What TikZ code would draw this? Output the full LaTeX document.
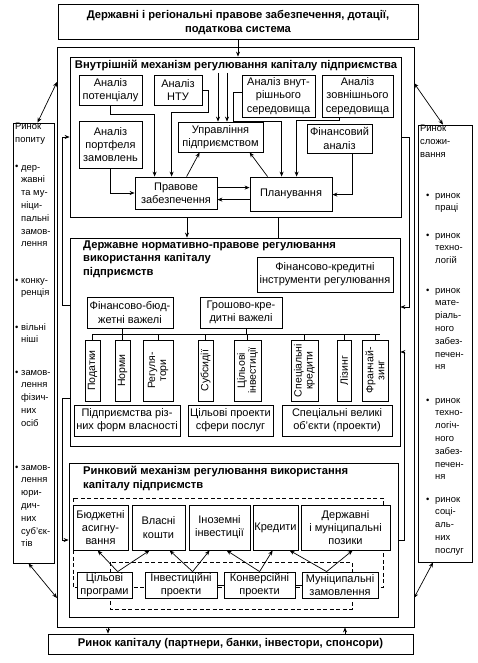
\documentclass[tikz,border=0pt]{standalone}
\usepackage{fontspec}
\setmainfont{Liberation Sans}
\usetikzlibrary{arrows.meta,calc}
\newcommand\mybox[6][]{\node[bx,#1,minimum width={(#5-#3)*1pt},minimum height={(#6-#4)*1pt}] (#2) at ({(#3+#5)/2},{(#4+#6)/2})}
\newcommand\myvbox[5]{\node[bx,rbx,rotate=90,minimum width={(#5-#3)*1pt},minimum height={(#4-#2)*1pt}] (#1) at ({(#2+#4)/2},{(#3+#5)/2})}
\begin{document}
\begin{tikzpicture}[x=1pt,y=-1pt,
  bx/.style={draw,line width=0.8pt,fill=white,inner sep=1pt,align=center,font=\fontsize{11}{13.2}\selectfont},
  rbx/.style={font=\fontsize{10.5}{11}\selectfont},
  tb/.style={font=\fontsize{11.2}{13.5}\selectfont\bfseries},
  ttl/.style={inner sep=0pt,font=\fontsize{11.2}{13.5}\selectfont\bfseries},
  side/.style={anchor=base west,inner sep=0pt,align=left,font=\fontsize{9.4}{12.8}\selectfont},
  arr/.style={line width=0.7pt,-{Stealth[length=5pt,width=4pt]}},
  darr/.style={line width=0.7pt,{Stealth[length=5pt,width=4pt]}-{Stealth[length=5pt,width=4pt]}},
  ln/.style={line width=0.7pt},
  dsh/.style={line width=0.8pt,dash pattern=on 4pt off 2.5pt}]
\fill[white] (0,0) rectangle (477,663);
\useasboundingbox (0,0) rectangle (477,663);
% frames
\mybox[fill=none]{outer}{57}{47}{414}{627}{};
\mybox{mech}{70}{57}{401}{217}{};
\mybox{state}{70}{238}{400}{446}{};
\mybox{mkt}{69}{463}{398}{617}{};
\mybox[tb,line width=1pt]{top}{58}{5}{418}{40}{Державні і регіональні правове забезпечення, дотації,\\податкова система};
\mybox[tb]{cap}{48}{634}{413}{654}{Ринок капіталу (партнери, банки, інвестори, спонсори)};
% side panels (anchors at the baseline of the last line)
\mybox{dem}{13}{123}{54}{563}{};
\mybox{sup}{418}{125}{472}{562}{};
\node[side] (demH) at (15,142.8) {Ринок\\попиту};
\node[side] (db1) at (15,170) {\textbullet}; \node[side] (dt1) at (21,246.8) {дер-\\жавні\\та му-\\ніци-\\пальні\\замов-\\лення};
\node[side] (db2) at (15,283) {\textbullet}; \node[side] (dt2) at (21,295.8) {конку-\\ренція};
\node[side] (db3) at (15,330) {\textbullet}; \node[side] (dt3) at (21,342.8) {вільні\\ніші};
\node[side] (db4) at (15,375) {\textbullet}; \node[side] (dt4) at (21,426.2) {замов-\\лення\\фізич-\\них\\осіб};
\node[side] (db5) at (15,470) {\textbullet}; \node[side] (dt5) at (21,546.8) {замов-\\лення\\юри-\\дич-\\них\\суб’єк-\\тів};
\node[side] (supH) at (420,157.6) {Ринок\\сложи-\\вання};
\node[side] (sb1) at (426,198) {\textbullet}; \node[side] (st1) at (435,210.8) {ринок\\праці};
\node[side] (sb2) at (426,238) {\textbullet}; \node[side] (st2) at (435,263.6) {ринок\\техно-\\логій};
\node[side] (sb3) at (426,293) {\textbullet}; \node[side] (st3) at (435,369.8) {ринок\\мате-\\ріаль-\\ного\\забез-\\печен-\\ня};
\node[side] (sb4) at (426,403) {\textbullet}; \node[side] (st4) at (435,479.8) {ринок\\техно-\\логіч-\\ного\\забез-\\печен-\\ня};
\node[side] (sb5) at (426,502) {\textbullet}; \node[side] (st5) at (435,553.2) {ринок\\соці-\\аль-\\них\\послуг};
% inner mechanism
\node[ttl,anchor=base] (mechT) at (236,69) {Внутрішній механізм регулювання капіталу підприємства};
\mybox{pot}{79}{75}{142}{105}{Аналіз\\потенціалу};
\mybox{ntu}{154}{75}{202}{105}{Аналіз\\НТУ};
\mybox{vnu}{242}{75}{315}{117}{Аналіз внут-\\рішнього\\середовища};
\mybox{zov}{322}{75}{393}{117}{Аналіз\\зовнішнього\\середовища};
\mybox{port}{79}{121}{142}{168}{Аналіз\\портфеля\\замовлень};
\mybox{upr}{178}{122}{263}{152}{Управління\\підприємством};
\mybox{fin}{307}{124}{372}{153}{Фінансовий\\аналіз};
\mybox{prav}{135}{177}{217}{209}{Правове\\забезпечення};
\mybox{plan}{250}{177}{332}{211}{Планування};
\coordinate (cA) at (218,73); \coordinate (cB) at (227,73);
\draw[arr] (cA) -- (cA |- upr.north);
\draw[arr] (cB) -- (cB |- upr.north);
\draw[arr] (pot.south) -- ++(0,9) -| ([xshift=20pt]prav.north west);
\draw[arr] (ntu.east) -- ++(6,0) -- ++(0,22) -| ([xshift=37pt]prav.north west);
\draw[arr] (port.south) |- (prav.west);
\draw[arr] ([xshift=52pt]prav.north west) -- ([xshift=22pt]upr.south west);
\draw[arr] ([xshift=18pt]plan.north west) -- ([xshift=72pt]upr.south west);
\coordinate (pp1) at ([yshift=-11pt]prav.north east);
\coordinate (pp2) at ([yshift=-23pt]prav.north east);
\draw[arr] (pp1) -- (pp1 -| plan.west);
\draw[arr] (pp2 -| plan.west) -- (pp2);
\draw[arr] ([yshift=4pt]vnu.west) -- ++(-8,0) -- ++(0,29) -| ([xshift=32pt]plan.north west);
\draw[arr] ([xshift=18pt]zov.south west) -- ++(0,3) -| ([xshift=47pt]plan.north west);
\draw[arr] ([xshift=46pt]fin.south west) |- ([yshift=-18pt]plan.north east);
% top / bottom links
\draw[arr] (top.south) -- (top.south |- mech.north);
\coordinate (bA) at (108,0); \coordinate (bB) at (345,0);
\draw[arr] (bA |- outer.south) -- (bA |- cap.north);
\draw[arr] (bB |- cap.north) -- (bB |- outer.south);
\coordinate (ms1) at (187,0); \coordinate (ms2) at (278,0);
\draw[arr] (ms1 |- mech.south) -- (ms1 |- state.north);
\draw[ln] (ms2 |- mech.south) -- (ms2 |- state.north);
% side connectors
\coordinate (lA) at (62,305); \draw[arr] (lA -| state.west) -- (lA) |- (mech.west);
\coordinate (lB) at (62,398); \draw[arr] (lB -| state.west) -- (lB) |- (mkt.west);
\coordinate (rA) at (409,307); \draw[arr] (mech.east) -| (rA) -- (rA -| state.east);
\coordinate (rB) at (404,352); \draw[arr] (mkt.east) -| (rB) -- (rB -| state.east);
\coordinate (dl1) at (57,82); \draw[darr] ([xshift=4pt]dem.north) -- (dl1);
\coordinate (dl2) at (57,598); \draw[darr] ([xshift=-5pt]dem.south) -- (dl2);
\coordinate (dr1) at (414,83); \draw[darr] (dr1) -- ([xshift=-2pt]sup.north);
\coordinate (dr2) at (414,598); \draw[darr] ([xshift=-12pt]sup.south) -- (dr2);
% state regulation
\node[ttl,anchor=base west,align=left] (stateT) at (83,275) {Державне нормативно-правове регулювання\\використання капіталу\\підприємств};
\mybox{fk}{257}{257}{393}{292}{Фінансово-кредитні\\інструменти регулювання};
\mybox{fb}{87}{297}{173}{328}{Фінансово-бюд-\\жетні важелі};
\mybox{gk}{200}{297}{282}{328}{Грошово-кре-\\дитні важелі};
\myvbox{pod}{85}{340}{100}{401}{Податки};
\myvbox{nor}{115}{340}{130}{401}{Норми};
\myvbox{reg}{143}{340}{173}{401}{Регуля-\\тори};
\myvbox{sub}{198}{340}{213}{401}{Субсидії};
\myvbox{cin}{234}{340}{261}{401}{Цільові\\інвестиції};
\myvbox{spk}{291}{340}{318}{401}{Спеціальні\\кредити};
\myvbox{liz}{337}{340}{351}{401}{Лізинг};
\myvbox{fra}{362}{340}{388}{401}{Франчай-\\зинг};
\coordinate (busY) at (0,334);
\draw[ln] (pod.east |- busY) -- ([xshift=5pt]fra.east |- busY);
\foreach \n in {pod,nor,reg,sub,cin,spk,liz,fra} {\draw[ln] (\n.east) -- (\n.east |- busY);}
\coordinate (fbT) at ([xshift=36pt]fb.south west); \draw[ln] (fbT) -- (fbT |- busY);
\coordinate (gkT) at ([xshift=47pt]gk.south west); \draw[ln] (gkT) -- (gkT |- busY);
\mybox{pfv}{74}{405}{180}{436}{Підприємства різ-\\них форм власності};
\mybox{cps}{188}{405}{273}{436}{Цільові проекти\\сфери послуг};
\mybox{svo}{282}{405}{392}{436}{Спеціальні великі\\об’єкти (проекти)};
% market mechanism
\node[ttl,anchor=base west,align=left] (mktT) at (83,488) {Ринковий механізм регулювання використання\\капіталу підприємств};
\draw[dsh] (73,498) rectangle (383,587);
\draw[dsh] (110,562) rectangle (352,609);
\mybox{bud}{73}{505}{128}{550}{Бюджетні\\асигну-\\вання};
\mybox{vla}{132}{505}{185}{550}{Власні\\кошти};
\mybox{ino}{189}{505}{250}{550}{Іноземні\\інвестиції};
\mybox{kre}{253}{505}{298}{550}{Кредити};
\mybox{dmp}{301}{505}{390}{550}{Державні\\і муніципальні\\позики};
\mybox{cpr}{77}{572}{132}{598}{Цільові\\програми};
\mybox{inp}{145}{572}{217}{598}{Інвестиційні\\проекти};
\mybox{kon}{224}{572}{295}{598}{Конверсійні\\проекти};
\mybox{mun}{302}{572}{378}{598}{Муніципальні\\замовлення};
\draw[ln] (inp.east) -- (kon.west);
\draw[ln] (kon.east) -- (mun.west);
\draw[arr] ([xshift=41pt]cpr.north west) -- ([xshift=25pt]bud.south west);
\draw[arr] ([xshift=41pt]cpr.north west) -- ([xshift=18pt]vla.south west);
\draw[arr] ([xshift=48pt]inp.north west) -- ([xshift=38pt]vla.south west);
\draw[arr] ([xshift=48pt]inp.north west) -- ([xshift=21pt]ino.south west);
\draw[arr] ([xshift=36pt]kon.north west) -- ([xshift=38pt]ino.south west);
\draw[arr] ([xshift=36pt]kon.north west) -- ([xshift=20pt]kre.south west);
\draw[arr] ([xshift=25pt]mun.north west) -- ([xshift=37pt]kre.south west);
\draw[arr] ([xshift=25pt]mun.north west) -- ([xshift=52pt]dmp.south west);
\end{tikzpicture}
\end{document}
